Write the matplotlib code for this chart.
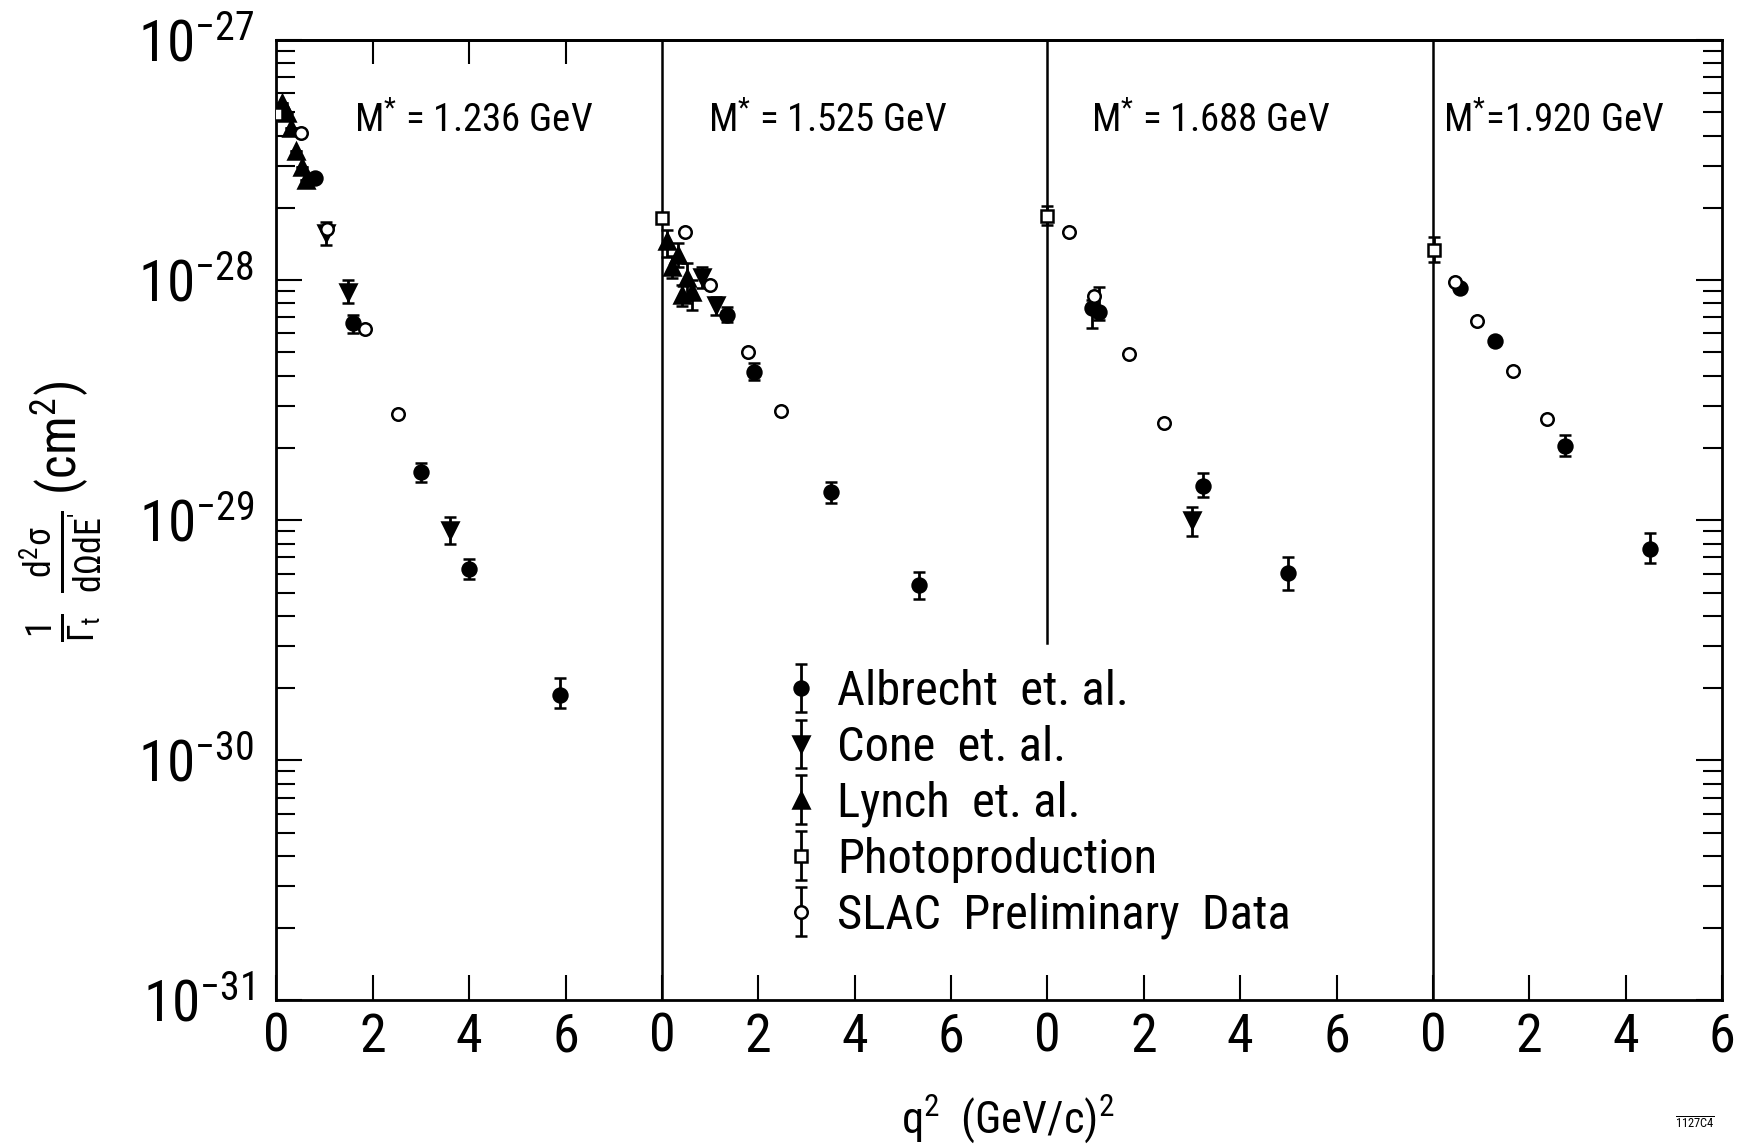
import numpy as np
import matplotlib
matplotlib.use("Agg")
import matplotlib.pyplot as plt
from matplotlib import font_manager
from matplotlib.ticker import FixedLocator, FixedFormatter, LogLocator, NullFormatter

names = {f.name for f in font_manager.fontManager.ttflist}
FONT = 'DejaVu Sans'
for cand in ['Liberation Sans Narrow', 'Roboto Condensed', 'Liberation Sans']:
    if cand in names:
        FONT = cand
        break
plt.rcParams['font.family'] = [FONT, 'DejaVu Sans']
plt.rcParams['mathtext.default'] = 'regular'

# ---------------- data ----------------
panel_labels = ["M$^{*}$ = 1.236 GeV", "M$^{*}$ = 1.525 GeV", "M$^{*}$ = 1.688 GeV", "M$^{*}$=1.920 GeV"]
panel_label_x = [1.6, 0.95, 0.9, 0.22]
panel_width = 8.0
xtick_labels = ['0', '2', '4', '6']

# Albrecht et al. (filled circles)
alb_panel = [0, 0, 0, 0, 0, 1, 1, 1, 1, 2, 2, 2, 2, 3, 3, 3, 3]
alb_q2 = [0.80, 1.59, 3.00, 3.99, 5.88, 1.34, 1.92, 3.51, 5.33, 0.92, 1.08, 3.22, 5.00, 0.56, 1.28, 2.74, 4.50]
alb_val = [2.65e-28, 6.61e-29, 1.59e-29, 6.24e-30, 1.88e-30, 7.15e-29, 4.15e-29, 1.31e-29, 5.36e-30,
           7.69e-29, 7.38e-29, 1.39e-29, 6.04e-30, 9.23e-29, 5.57e-29, 2.03e-29, 7.62e-30]
alb_lo = [2.65e-28, 6.01e-29, 1.45e-29, 5.68e-30, 1.66e-30, 6.70e-29, 3.83e-29, 1.18e-29, 4.72e-30,
          6.31e-29, 6.81e-29, 1.25e-29, 5.14e-30, 9.23e-29, 5.57e-29, 1.85e-29, 6.61e-30]
alb_hi = [2.65e-28, 7.15e-29, 1.73e-29, 6.88e-30, 2.20e-30, 7.74e-29, 4.52e-29, 1.44e-29, 6.10e-30,
          8.25e-29, 9.37e-29, 1.57e-29, 7.04e-30, 9.23e-29, 5.57e-29, 2.26e-29, 8.85e-30]

# Cone et al. (filled down triangles)
cone_panel = [0, 0, 0, 1, 1, 2]
cone_q2 = [1.02, 1.48, 3.61, 0.83, 1.13, 3.00]
cone_val = [1.57e-28, 8.93e-29, 9.08e-30, 1.03e-28, 7.87e-29, 1.00e-29]
cone_lo = [1.40e-28, 8.04e-29, 7.94e-30, 9.23e-29, 7.15e-29, 8.58e-30]
cone_hi = [1.74e-28, 1.00e-28, 1.03e-29, 1.13e-28, 8.48e-29, 1.14e-29]

# Lynch et al. (filled up triangles)
lyn_panel = [0, 0, 0, 0, 0, 0, 1, 1, 1, 1, 1, 1]
lyn_q2 = [0.12, 0.22, 0.31, 0.40, 0.52, 0.62, 0.10, 0.21, 0.33, 0.42, 0.52, 0.62]
lyn_val = [5.48e-28, 4.95e-28, 4.32e-28, 3.46e-28, 2.95e-28, 2.62e-28,
           1.45e-28, 1.13e-28, 1.27e-28, 8.66e-29, 1.02e-28, 8.93e-29]
lyn_lo = [5.48e-28, 4.95e-28, 4.32e-28, 3.46e-28, 2.95e-28, 2.62e-28,
          1.25e-28, 1.02e-28, 1.13e-28, 7.79e-29, 8.30e-29, 7.50e-29]
lyn_hi = [5.48e-28, 4.95e-28, 4.32e-28, 3.46e-28, 2.95e-28, 2.62e-28,
          1.62e-28, 1.26e-28, 1.43e-28, 9.53e-29, 1.18e-28, 1.00e-28]

# Photoproduction (open squares)
pho_panel = [0, 1, 2, 3]
pho_q2 = [0.0, 0.0, 0.0, 0.02]
pho_val = [4.94e-28, 1.81e-28, 1.85e-28, 1.33e-28]
pho_lo = [4.94e-28, 1.81e-28, 1.69e-28, 1.19e-28]
pho_hi = [4.94e-28, 1.81e-28, 2.03e-28, 1.51e-28]

# SLAC preliminary data (open circles)
slac_panel = [0, 0, 0, 0, 1, 1, 1, 1, 2, 2, 2, 2, 3, 3, 3, 3]
slac_q2 = [0.50, 1.05, 1.83, 2.52, 0.47, 0.99, 1.78, 2.47, 0.44, 0.96, 1.70, 2.42, 0.46, 0.92, 1.67, 2.36]
slac_val = [4.08e-28, 1.64e-28, 6.24e-29, 2.77e-29, 1.59e-28, 9.53e-29, 5.02e-29, 2.85e-29,
            1.58e-28, 8.58e-29, 4.92e-29, 2.55e-29, 9.84e-29, 6.77e-29, 4.19e-29, 2.65e-29]

series = [
    ("Albrecht  et. al.", alb_panel, alb_q2, alb_val, alb_lo, alb_hi, dict(marker='o', mfc='black', ms=10)),
    ("Cone  et. al.", cone_panel, cone_q2, cone_val, cone_lo, cone_hi, dict(marker='v', mfc='black', ms=11)),
    ("Lynch  et. al.", lyn_panel, lyn_q2, lyn_val, lyn_lo, lyn_hi, dict(marker='^', mfc='black', ms=11)),
    ("Photoproduction", pho_panel, pho_q2, pho_val, pho_lo, pho_hi, dict(marker='s', mfc='white', ms=8)),
    ("SLAC  Preliminary  Data", slac_panel, slac_q2, slac_val, slac_val, slac_val, dict(marker='o', mfc='white', ms=9)),
]

# ---------------- figure ----------------
fig = plt.figure(figsize=(17.37, 11.44), dpi=100)
ax = fig.add_axes([0.15918, 0.12544, 0.83218, 0.83959])
ax.set_yscale('log')
ax.set_ylim(1e-31, 1e-27)
ax.set_xlim(0, 3 * panel_width + 6)

handles = []
for name, pan, q2, val, lo, hi, st in series:
    x = np.array(q2) + panel_width * np.array(pan)
    v = np.array(val)
    yerr = [v - np.array(lo), np.array(hi) - v]
    h = ax.errorbar(x, v, yerr=yerr, linestyle='none', color='black', mec='black', mew=1.8,
                    elinewidth=2.0, capsize=4.5, capthick=2.0, zorder=3, label=name, **st)
    handles.append(h)

# panel dividers
ax.axvline(panel_width, color='black', lw=1.8, zorder=1)
ax.axvline(2 * panel_width, ymin=0.372, ymax=1, color='black', lw=1.8, zorder=1)
ax.axvline(3 * panel_width, color='black', lw=1.8, zorder=1)

# panel labels
for k, lab in enumerate(panel_labels):
    ax.text(panel_label_x[k] + panel_width * k, 4.6e-28, lab, fontsize=28, ha='left', va='center')

# ticks
xt = [float(v) + panel_width * k for k in range(4) for v in xtick_labels]
ax.xaxis.set_major_locator(FixedLocator(xt))
ax.xaxis.set_major_formatter(FixedFormatter(xtick_labels * 4))
ax.tick_params(axis='x', direction='in', length=18, width=1.5, labelsize=39, pad=8)
ax.yaxis.set_minor_locator(LogLocator(base=10, subs=np.arange(2, 10), numticks=20))
ax.yaxis.set_minor_formatter(NullFormatter())
ax.set_yticks([1e-31, 1e-30, 1e-29, 1e-28, 1e-27])
ax.set_yticklabels(['$10^{-31}$', '$10^{-30}$', '$10^{-29}$', '$10^{-28}$', '$10^{-27}$'])
ax.tick_params(axis='y', which='major', direction='in', length=19, width=1.5, labelsize=41, pad=16,
               right=True)
ax.tick_params(axis='y', which='minor', direction='in', length=14, width=1.5, right=True)
for s in ax.spines.values():
    s.set_linewidth(2.0)

sec = ax.secondary_xaxis('top')
sec.set_xticks([2, 4, 6])
sec.tick_params(direction='in', length=17, width=1.5, labeltop=False)
sec.spines['top'].set_linewidth(2.0)

# legend
leg = ax.legend(handles=handles, loc='upper left', bbox_to_anchor=(0.3525, 0.345), frameon=False,
                fontsize=35, borderpad=0, borderaxespad=0, labelspacing=0.2,
                handlelength=0.6, handleheight=0.7, handletextpad=0.45, numpoints=1)

# axis labels
fig.text(1008 / 1737, 1 - 1119 / 1144, 'q$^2$  (GeV/c)$^2$', fontsize=32, ha='center', va='center')
fig.text(60 / 1737, 1 - 512 / 1144,
         r'$\frac{1}{\Gamma_t}\ \frac{d^2\sigma}{d\Omega dE^{\prime}}$ (cm$^2$)',
         fontsize=37, rotation=90, ha='center', va='center')
fig.text(1695 / 1737, 1 - 1124 / 1144, r'$\overline{1127C4}$', fontsize=9, ha='center', va='center')

fig.savefig('out.png', dpi=100)
